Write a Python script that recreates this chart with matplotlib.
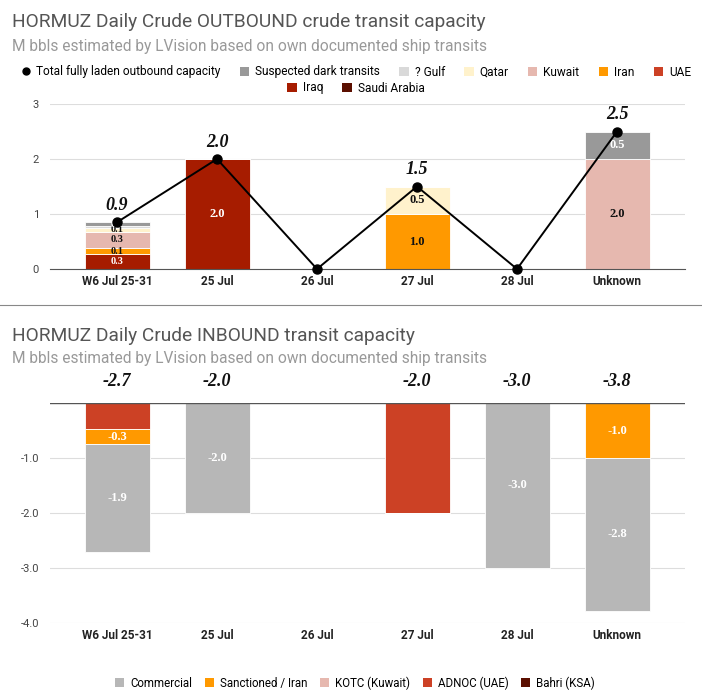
import matplotlib
matplotlib.use('Agg')
import matplotlib.pyplot as plt
import numpy as np
from matplotlib.lines import Line2D
from matplotlib.patches import Patch

plt.rcParams['font.family'] = ['Roboto', 'DejaVu Sans']

# Data
days = ['W6 Jul 25-31', '25 Jul', '26 Jul', '27 Jul', '28 Jul', 'Unknown']

# outbound, M bbls (stack order bottom -> top)
out_saudi = [0, 0, 0, 0, 0, 0]
out_iraq = [0.27, 2.0, 0, 0, 0, 0]
out_uae = [0, 0, 0, 0, 0, 0]
out_iran = [0.11, 0, 0, 1.0, 0, 0]
out_kuwait = [0.3, 0, 0, 0, 0, 2.0]
out_qatar = [0.07, 0, 0, 0.5, 0, 0]
out_gulf = [0.03, 0, 0, 0, 0, 0]
out_dark = [0.07, 0, 0, 0, 0, 0.5]
out_total = [0.85, 2.0, 0, 1.5, 0, 2.5]
out_total_lbl = ['0.9', '2.0', '', '1.5', '', '2.5']

# inbound, M bbls (stack from zero down)
in_bahri = [0, 0, 0, 0, 0, 0]
in_adnoc = [-0.48, 0, 0, -2.0, 0, 0]
in_kotc = [0, 0, 0, 0, 0, 0]
in_iran = [-0.27, 0, 0, 0, 0, -1.0]
in_comm = [-1.95, -2.0, 0, 0, -3.0, -2.78]
in_total_lbl = ['-2.7', '-2.0', '', '-2.0', '-3.0', '-3.8']

C_SAUDI = '#5b0f00'
C_IRAQ = '#a61c00'
C_UAE = '#cc4125'
C_IRAN = '#ff9900'
C_KUWAIT = '#e6b8af'
C_QATAR = '#fff2cc'
C_GULF = '#d9d9d9'
C_DARK = '#999999'
C_COMM = '#b7b7b7'

W, H = 702, 700
fig = plt.figure(figsize=(7.02, 7.0), dpi=100)
x = np.arange(len(days))
bw = 0.65
serif = ['Liberation Serif', 'DejaVu Serif']


def style_axes(ax):
    for s in ['top', 'right', 'left']:
        ax.spines[s].set_visible(False)
    ax.spines['bottom'].set_color('#555555')
    ax.tick_params(axis='both', length=0)
    ax.tick_params(axis='y', labelsize=8, labelcolor='#444444', pad=8)
    ax.grid(axis='y', color='#dddddd', linewidth=0.8)
    ax.set_axisbelow(True)
    ax.set_xticks(x)
    ax.set_xticklabels(days, fontsize=8.5, fontweight='bold', color='#222222')
    ax.set_xlim(-0.67, 5.68)


# ---- outbound ----
ax1 = fig.add_axes([50 / W, 1 - 269 / H, 635 / W, 165 / H])
style_axes(ax1)
ax1.set_ylim(0, 3)
ax1.set_yticks([0, 1, 2, 3])
ax1.tick_params(axis='x', pad=4)

out_layers = [
    (out_saudi, C_SAUDI, 'white'),
    (out_iraq, C_IRAQ, 'white'),
    (out_uae, C_UAE, 'white'),
    (out_iran, C_IRAN, '#111111'),
    (out_kuwait, C_KUWAIT, '#111111'),
    (out_qatar, C_QATAR, '#111111'),
    (out_gulf, C_GULF, '#111111'),
    (out_dark, C_DARK, 'white'),
]
bottom = np.zeros(len(days))
for vals, col, tcol in out_layers:
    v = np.array(vals)
    ax1.bar(x, v, bw, bottom=bottom, color=col, edgecolor='white', linewidth=0.6)
    for i in range(len(days)):
        if v[i] >= 0.07 and col != C_GULF:
            fs = 9 if v[i] >= 0.4 else 7.5
            ax1.text(x[i], bottom[i] + v[i] / 2, f'{max(v[i], 0.1):.1f}', ha='center', va='center',
                     fontsize=fs, fontweight='bold', color=tcol, family=serif)
    bottom += v

ax1.plot(x, out_total, color='black', linewidth=1.4, marker='o', markersize=6.5, zorder=5, clip_on=False)
for i, lbl in enumerate(out_total_lbl):
    if lbl:
        ax1.text(x[i], out_total[i] + 0.15, lbl, ha='center', va='bottom', fontsize=13,
                 fontweight='bold', style='italic', family=serif, color='#111111')

fig.text(12 / W, 1 - 22 / H, 'HORMUZ Daily Crude OUTBOUND crude transit capacity', fontsize=13.8,
         color='#555555', va='center')
fig.text(12 / W, 1 - 46 / H, 'M bbls estimated by LVision based on own documented ship transits', fontsize=11.2,
         color='#999999', va='center')

h1 = [Line2D([], [], color='black', marker='o', linestyle='', markersize=5)]
l1 = ['Total fully laden outbound capacity']
for lab, col in [('Suspected dark transits', C_DARK), ('? Gulf', C_GULF), ('Qatar', C_QATAR),
                 ('Kuwait', C_KUWAIT), ('Iran', C_IRAN), ('UAE', C_UAE), ('Iraq', C_IRAQ),
                 ('Saudi Arabia', C_SAUDI)]:
    h1.append(Patch(facecolor=col))
    l1.append(lab)
fig.legend(h1[:7], l1[:7], loc='center', bbox_to_anchor=(356 / W, 1 - 72 / H), ncol=7, frameon=False,
           fontsize=8.6, handlelength=0.8, handleheight=0.8, columnspacing=1.6, handletextpad=0.5)
fig.legend(h1[7:], l1[7:], loc='center', bbox_to_anchor=(356 / W, 1 - 88 / H), ncol=2, frameon=False,
           fontsize=8.6, handlelength=0.8, handleheight=0.8, columnspacing=1.6, handletextpad=0.5)

# separator
fig.add_artist(Line2D([0, 1], [1 - 305 / H, 1 - 305 / H], color='#888888', linewidth=0.8))

# ---- inbound ----
ax2 = fig.add_axes([50 / W, 1 - 623 / H, 635 / W, 220 / H])
style_axes(ax2)
ax2.set_ylim(-4, 0)
ax2.set_yticks([-1, -2, -3, -4])
ax2.set_yticklabels(['-1.0', '-2.0', '-3.0', '-4.0'])
ax2.spines['bottom'].set_visible(False)
ax2.axhline(0, color='#555555', linewidth=1, zorder=4)
ax2.tick_params(axis='x', pad=4)

in_layers = [
    (in_bahri, C_SAUDI),
    (in_adnoc, C_UAE),
    (in_kotc, C_KUWAIT),
    (in_iran, C_IRAN),
    (in_comm, C_COMM),
]
bottom = np.zeros(len(days))
for vals, col in in_layers:
    v = np.array(vals)
    ax2.bar(x, v, bw, bottom=bottom, color=col, edgecolor='white', linewidth=0.6)
    for i in range(len(days)):
        if v[i] <= -0.2 and col != C_UAE:
            ax2.text(x[i], bottom[i] + v[i] / 2, f'{v[i]:.1f}', ha='center', va='center',
                     fontsize=9, fontweight='bold', color='white', family=serif)
    bottom += v

for i, lbl in enumerate(in_total_lbl):
    if lbl:
        ax2.text(x[i], 0.4, lbl, ha='center', va='center', fontsize=13, fontweight='bold',
                 style='italic', family=serif, color='#111111', clip_on=False)

fig.text(12 / W, 1 - 336 / H, 'HORMUZ Daily Crude INBOUND transit capacity', fontsize=13.8,
         color='#555555', va='center')
fig.text(12 / W, 1 - 358 / H, 'M bbls estimated by LVision based on own documented ship transits', fontsize=11.2,
         color='#999999', va='center')

h2 = [Patch(facecolor=c) for c in [C_COMM, C_IRAN, C_KUWAIT, C_UAE, C_SAUDI]]
l2 = ['Commercial', 'Sanctioned / Iran', 'KOTC (Kuwait)', 'ADNOC (UAE)', 'Bahri (KSA)']
fig.legend(h2, l2, loc='center', bbox_to_anchor=(355 / W, 1 - 683 / H), ncol=5, frameon=False,
           fontsize=8.3, handlelength=0.8, handleheight=0.8, columnspacing=1.1, handletextpad=0.5)

fig.savefig('out.png', dpi=100, facecolor='white')
plt.close(fig)
